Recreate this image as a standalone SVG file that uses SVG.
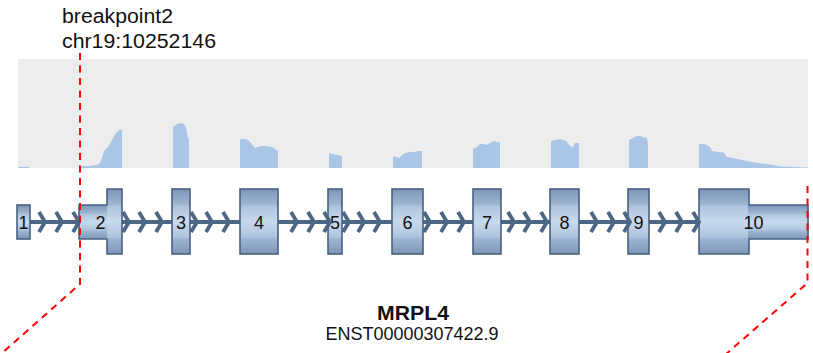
<svg xmlns="http://www.w3.org/2000/svg" xmlns:xlink="http://www.w3.org/1999/xlink" width="813" height="353" viewBox="0 0 813 353">
<defs>
<linearGradient id="exg" x1="0" y1="0" x2="0" y2="1">
<stop offset="0" stop-color="#7d96b6"/>
<stop offset="0.24" stop-color="#9fb6d2"/>
<stop offset="0.26" stop-color="#aec3dc"/>
<stop offset="0.5" stop-color="#c8d9ed"/>
<stop offset="0.74" stop-color="#aec3dc"/>
<stop offset="0.76" stop-color="#9fb6d2"/>
<stop offset="1" stop-color="#7d96b6"/>
</linearGradient>
<path id="chev" d="M-6,-10 L0,0 L-6,10"/>
</defs>
<style>
.lbl{font-family:"Liberation Sans",Arial,sans-serif;fill:#111}
.num{font-family:"Liberation Sans",Arial,sans-serif;font-size:18px;fill:#111;text-anchor:middle}
.ex{fill:url(#exg)}
.exs{fill:url(#exg);stroke:#4a6082;stroke-width:1.6}
.outl{fill:none;stroke:#4a6082;stroke-width:1.6}
.cov{fill:#aac6e6}
.bp{fill:none;stroke:#ff0000;stroke-width:2;stroke-dasharray:7 5.5}
.chev use{fill:none;stroke:#4c6686;stroke-width:3.8;stroke-linejoin:miter}
</style>

<g id="header">
<text class="lbl" x="62" y="23" font-size="20" textLength="111" lengthAdjust="spacingAndGlyphs">breakpoint2</text>
<text class="lbl" x="62" y="48" font-size="20" textLength="154" lengthAdjust="spacingAndGlyphs">chr19:10252146</text>
</g>

<g id="coverage">
<rect x="18" y="59" width="790" height="109" fill="#ededed"/>
<rect class="cov" x="18" y="166.8" width="11" height="1.2"/>
<path class="cov" d="M80,168 L80,166.3 L90,166 L97,165 L100,163 L102,158 L104,151 L108,147 L112,140 L116,133 L119,130 L122,130 L122,168 Z"/>
<path class="cov" d="M173,168 L173,127 L177,124 L180,123 L184,124 L186,127 L188,138 L189,138 L189,168 Z"/>
<path class="cov" d="M240,168 L240,139 L245,139 L248,140 L251,143 L255,148 L258,147 L261,146 L266,146 L272,147 L275,149 L278,151 L278,168 Z"/>
<path class="cov" d="M329,168 L329,153 L333,154 L337,155 L342,156 L342,168 Z"/>
<path class="cov" d="M393,168 L393,157 L395,156.5 L399,158 L402,155 L405,153 L410,152 L414,152 L418,151 L422,151 L422,168 Z"/>
<path class="cov" d="M473,168 L473,149 L477,147 L480,144 L484,144 L487,145 L490,143 L494,141 L497,142 L500,142.5 L500,168 Z"/>
<path class="cov" d="M551,168 L551,141 L555,140 L560,139 L563,140 L566,141 L569,145 L572,147 L573,147 L575,143 L579,143 L579,168 Z"/>
<path class="cov" d="M629,168 L629,140 L633,138 L637,136 L640,136 L643,137 L647,138 L648,145 L648,168 Z"/>
<path class="cov" d="M699,168 L699,144 L704,144 L707,145 L710,147 L712,151 L718,152 L724,152.5 L727,157 L733,158 L737,159 L742,160 L752,162 L758,163 L767,164 L773,165 L780,166.5 L795,167 L808,167.5 L808,168 Z"/>
</g>

<g id="connectors">
<line x1="30" y1="222" x2="699" y2="222" stroke="#4c6686" stroke-width="3.8"/>
</g>

<g id="exon1"><rect class="exs" x="17" y="205" width="13" height="34"/><text class="num" x="23.5" y="229">1</text></g>
<g id="exon2">
<rect class="ex" x="79" y="205" width="29" height="34"/>
<rect class="ex" x="107" y="189" width="15" height="65"/>
<path class="outl" d="M79,205 H107 V189 H122 V254 H107 V239 H79 Z"/>
<text class="num" x="100.5" y="229">2</text></g>
<g id="exon3"><rect class="exs" x="172" y="189" width="18" height="65"/><text class="num" x="181" y="229">3</text></g>
<g id="exon4"><rect class="exs" x="240" y="189" width="38" height="65"/><text class="num" x="259" y="229">4</text></g>
<g id="exon5"><rect class="exs" x="328" y="189" width="14" height="65"/><text class="num" x="335" y="229">5</text></g>
<g id="exon6"><rect class="exs" x="392" y="189" width="31" height="65"/><text class="num" x="407.5" y="229">6</text></g>
<g id="exon7"><rect class="exs" x="473" y="189" width="28" height="65"/><text class="num" x="487" y="229">7</text></g>
<g id="exon8"><rect class="exs" x="550" y="189" width="29" height="65"/><text class="num" x="564.5" y="229">8</text></g>
<g id="exon9"><rect class="exs" x="628" y="189" width="21" height="65"/><text class="num" x="638.5" y="229">9</text></g>
<g id="exon10">
<rect class="ex" x="699" y="189" width="50" height="65"/>
<rect class="ex" x="748" y="205" width="60" height="34"/>
<path class="outl" d="M699,189 H749 V205 H808 V239 H749 V254 H699 Z"/>
<text class="num" x="753.5" y="229">10</text></g>

<g id="chevrons" class="chev">
<use xlink:href="#chev" x="45" y="222"/><use xlink:href="#chev" x="62" y="222"/><use xlink:href="#chev" x="79" y="222"/>
<use xlink:href="#chev" x="129" y="222"/><use xlink:href="#chev" x="145" y="222"/><use xlink:href="#chev" x="162" y="222"/>
<use xlink:href="#chev" x="197" y="222"/><use xlink:href="#chev" x="212" y="222"/><use xlink:href="#chev" x="229" y="222"/>
<use xlink:href="#chev" x="297" y="222"/><use xlink:href="#chev" x="314" y="222"/><use xlink:href="#chev" x="330" y="222"/>
<use xlink:href="#chev" x="349" y="222"/><use xlink:href="#chev" x="364" y="222"/><use xlink:href="#chev" x="380" y="222"/>
<use xlink:href="#chev" x="430" y="222"/><use xlink:href="#chev" x="447" y="222"/><use xlink:href="#chev" x="464" y="222"/>
<use xlink:href="#chev" x="514" y="222"/><use xlink:href="#chev" x="530" y="222"/><use xlink:href="#chev" x="547" y="222"/>
<use xlink:href="#chev" x="597" y="222"/><use xlink:href="#chev" x="614" y="222"/><use xlink:href="#chev" x="630" y="222"/>
<use xlink:href="#chev" x="665" y="222"/><use xlink:href="#chev" x="682" y="222"/><use xlink:href="#chev" x="699" y="222"/>
</g>

<g id="breakpoints">
<path class="bp" d="M80,53 V284 L1,354"/>
<path class="bp" d="M807.5,186 V283 L725,355"/>
</g>

<g id="title">
<text class="lbl" x="413" y="320" font-size="20" font-weight="bold" text-anchor="middle" textLength="72" lengthAdjust="spacingAndGlyphs">MRPL4</text>
<text class="lbl" x="412" y="340" font-size="18" text-anchor="middle">ENST00000307422.9</text>
</g>
</svg>
